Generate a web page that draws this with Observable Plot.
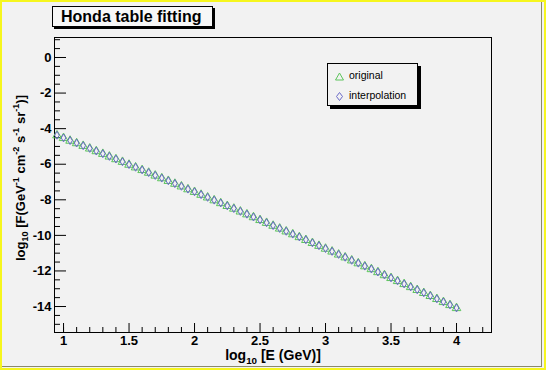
<!DOCTYPE html>
<html>
<head>
<meta charset="utf-8">
<script src="https://cdn.jsdelivr.net/npm/d3@7"></script>
<script src="https://cdn.jsdelivr.net/npm/@observablehq/plot@0.6"></script>
<style>
  html, body { margin: 0; padding: 0; background: #f2f2f2; }
  #wrap { position: relative; width: 546px; height: 370px; background: #f2f2f2; overflow: hidden; font-family: "Liberation Sans", Arial, sans-serif; }
  #wrap svg.plot { position: absolute; left: 0; top: 0; }
  .edge { position: absolute; left: 0; top: 0; width: 546px; height: 370px; box-sizing: border-box; border: 2px solid #f6f61e; pointer-events: none; }
  .edge2 { position: absolute; left: 2px; top: 2px; width: 540px; height: 365px; box-sizing: border-box; border-right: 1px solid #8a8a6a; border-bottom: 1px solid #8a8a6a; }
  .title { position: absolute; left: 52px; top: 6px; width: 161px; height: 21px; box-sizing: border-box; background: #f7f7f7; border: 1px solid #000; box-shadow: 2px 2px 0 #000; font-weight: bold; font-size: 16px; line-height: 19px; padding-left: 8px; color: #000; white-space: nowrap; }
  .legend { position: absolute; left: 327px; top: 63px; width: 91px; height: 43px; box-sizing: border-box; background: #f2f2f2; border: 1px solid #000; box-shadow: 3px 3px 0 #000; font-size: 10.5px; color: #000; }
  .legend .row { position: absolute; left: 7px; height: 14px; line-height: 14px; white-space: nowrap; }
  .legend svg { vertical-align: middle; margin-right: 5px; }
  .xlab { position: absolute; left: 173px; width: 200px; top: 347px; line-height: 16px; text-align: center; font-weight: bold; font-size: 14px; color: #000; white-space: nowrap; }
  .ylab { position: absolute; left: 20px; top: 178px; transform: translate(-50%, -50%) rotate(-90deg); font-weight: bold; font-size: 13px; color: #000; white-space: nowrap; }
  sub, sup { font-size: 70%; line-height: 0; }
</style>
</head>
<body>
<div id="wrap"></div>
<script>
// log10(E/GeV) sample positions
const logE = [0.95,1.00,1.05,1.10,1.15,1.20,1.25,1.30,1.35,1.40,1.45,1.50,1.55,1.60,1.65,1.70,1.75,1.80,1.85,1.90,
  1.95,2.00,2.05,2.10,2.15,2.20,2.25,2.30,2.35,2.40,2.45,2.50,2.55,2.60,2.65,2.70,2.75,2.80,2.85,2.90,
  2.95,3.00,3.05,3.10,3.15,3.20,3.25,3.30,3.35,3.40,3.45,3.50,3.55,3.60,3.65,3.70,3.75,3.80,3.85,3.90,3.95,4.00];
// original Honda table values, log10 F
const original = [-4.38,-4.53,-4.68,-4.82,-4.97,-5.12,-5.27,-5.42,-5.57,-5.72,-5.87,-6.03,-6.18,-6.33,-6.48,-6.64,-6.79,-6.94,-7.10,-7.25,
  -7.41,-7.56,-7.72,-7.87,-8.03,-8.19,-8.35,-8.50,-8.66,-8.82,-8.98,-9.14,-9.30,-9.46,-9.62,-9.78,-9.94,-10.10,-10.26,-10.43,
  -10.59,-10.75,-10.91,-11.08,-11.24,-11.41,-11.57,-11.74,-11.90,-12.07,-12.24,-12.40,-12.57,-12.74,-12.91,-13.07,-13.24,-13.41,-13.58,-13.75,-13.92,-14.09];
// interpolated values, log10 F
const interpolation = [-4.37,-4.52,-4.67,-4.81,-4.96,-5.11,-5.26,-5.41,-5.56,-5.71,-5.86,-6.02,-6.17,-6.32,-6.47,-6.63,-6.78,-6.93,-7.09,-7.24,
  -7.40,-7.55,-7.71,-7.86,-8.02,-8.18,-8.34,-8.49,-8.65,-8.81,-8.97,-9.13,-9.29,-9.45,-9.61,-9.77,-9.93,-10.09,-10.25,-10.42,
  -10.58,-10.74,-10.90,-11.07,-11.23,-11.40,-11.56,-11.73,-11.89,-12.06,-12.23,-12.39,-12.56,-12.73,-12.90,-13.06,-13.23,-13.40,-13.57,-13.74,-13.91,-14.08];

const xMajor = [1, 1.5, 2, 2.5, 3, 3.5, 4];
const xMinor = [1.0,1.1,1.2,1.3,1.4,1.6,1.7,1.8,1.9,2.1,2.2,2.3,2.4,2.6,2.7,2.8,2.9,3.1,3.2,3.3,3.4,3.6,3.7,3.8,3.9,4.1,4.2];
const yMajor = [0, -2, -4, -6, -8, -10, -12, -14];
const yMinor = [1,0.5,-0.5,-1,-1.5,-2.5,-3,-3.5,-4.5,-5,-5.5,-6.5,-7,-7.5,-8.5,-9,-9.5,-10.5,-11,-11.5,-12.5,-13,-13.5,-14.5,-15];

const origData = logE.map((x, i) => ({x, y: original[i]}));
const interpData = logE.map((x, i) => ({x, y: interpolation[i]}));

const fmt = d => String(d);

const chart = Plot.plot({
  width: 546,
  height: 370,
  marginLeft: 54,
  marginRight: 55,
  marginTop: 37,
  marginBottom: 38,
  style: {background: "transparent", fontFamily: "'Liberation Sans', Arial, sans-serif", fontWeight: "bold", fontSize: "13px", color: "#000", overflow: "visible"},
  x: {domain: [0.931, 4.267]},
  y: {domain: [-15.46, 1.124]},
  marks: [
    Plot.frame({stroke: "#000", strokeWidth: 1}),
    Plot.axisX(xMinor, {anchor: "bottom", tickSize: -5, text: null, label: null, stroke: "#000"}),
    Plot.axisX(xMajor, {anchor: "bottom", tickSize: -9, tickPadding: 12, tickFormat: fmt, label: null, stroke: "#000", fill: "#000", fontSize: 13, fontWeight: "bold"}),
    Plot.axisY(yMinor, {anchor: "left", tickSize: -6, text: null, label: null, stroke: "#000"}),
    Plot.axisY(yMajor, {anchor: "left", tickSize: -12, tickPadding: 15, tickFormat: fmt, label: null, stroke: "#000", fill: "#000", fontSize: 13, fontWeight: "bold"}),
    Plot.dot(origData, {x: "x", y: "y", symbol: "triangle", r: 3.2, stroke: "#5cc45c", fill: "none", strokeWidth: 1}),
    Plot.dot(interpData, {x: "x", y: "y", symbol: "diamond", r: 2.4, stroke: "#6a6ac8", fill: "none", strokeWidth: 1})
  ]
});
chart.classList.add("plot");

const wrap = document.getElementById("wrap");
wrap.appendChild(chart);
wrap.insertAdjacentHTML("beforeend", `
  <div class="title">Honda table fitting</div>
  <div class="legend">
    <div class="row" style="top:4px"><svg width="9" height="9"><polygon points="4.5,1 8.5,8 0.5,8" fill="none" stroke="#5cc45c" stroke-width="1"/></svg>original</div>
    <div class="row" style="top:24px"><svg width="9" height="9"><polygon points="4.5,0.5 7.5,4.5 4.5,8.5 1.5,4.5" fill="none" stroke="#6a6ac8" stroke-width="1"/></svg>interpolation</div>
  </div>
  <div class="xlab">log<sub>10</sub> [E (GeV)]</div>
  <div class="ylab">log<sub>10</sub> [F(GeV<sup>-1</sup> cm<sup>-2</sup> s<sup>-1</sup> sr<sup>-1</sup>)]</div>
  <div class="edge2"></div>
  <div class="edge"></div>
`);
</script>
</body>
</html>
